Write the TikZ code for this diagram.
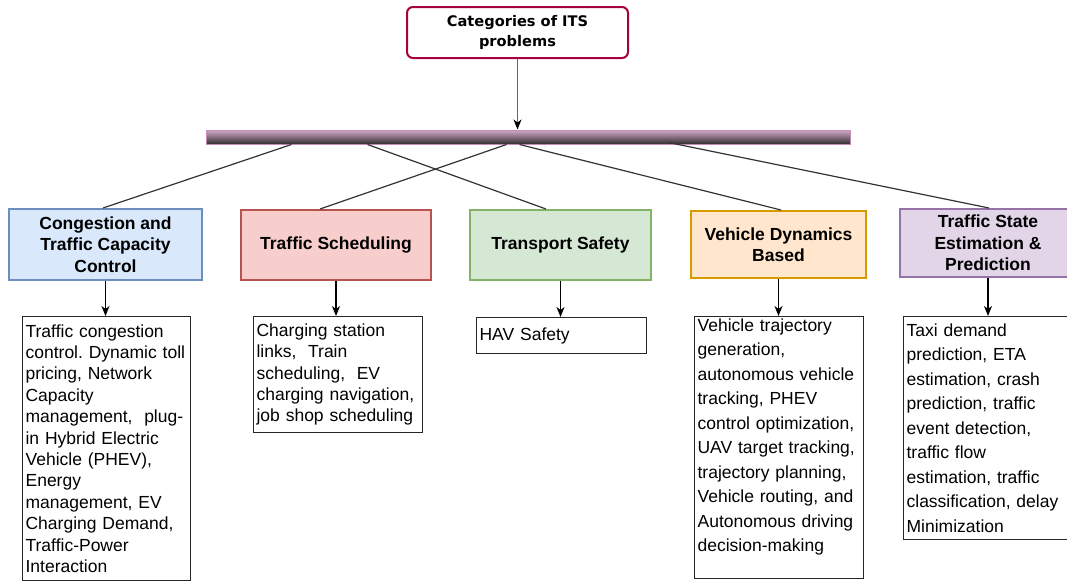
\documentclass[tikz,border=0pt]{standalone}
\usepackage{fontspec}
\setmainfont{Liberation Sans}
\newfontfamily\titlefont{DejaVu Sans}
\usetikzlibrary{arrows.meta}
\frenchspacing

\definecolor{topEdge}{HTML}{A50040}
\definecolor{blueFill}{HTML}{DAE8FC}\definecolor{blueEdge}{HTML}{6C8EBF}
\definecolor{redFill}{HTML}{F8CECC}\definecolor{redEdge}{HTML}{B85450}
\definecolor{greenFill}{HTML}{D5E8D4}\definecolor{greenEdge}{HTML}{82B366}
\definecolor{orangeFill}{HTML}{FFE6CC}\definecolor{orangeEdge}{HTML}{D79B00}
\definecolor{purpleFill}{HTML}{E1D5E7}\definecolor{purpleEdge}{HTML}{9673A6}
\definecolor{barTop}{RGB}{212,170,200}
\definecolor{barMid}{RGB}{130,118,128}
\definecolor{barBottom}{RGB}{50,46,50}
\definecolor{barEdge}{RGB}{196,140,180}
\definecolor{wire}{HTML}{333333}

\begin{document}
\begin{tikzpicture}[x=1pt,y=-1pt,
  topbox/.style={draw=topEdge, line width=2pt, rounded corners=6pt, fill=white,
    minimum width=221pt, minimum height=51pt, inner sep=0pt, align=center,
    font=\fontsize{14.6}{20}\selectfont\titlefont\bfseries},
  barbox/.style={draw=barEdge, line width=1pt, top color=barTop, middle color=barMid,
    bottom color=barBottom, minimum width=644pt, minimum height=14pt, inner sep=0pt},
  catbox/.style={line width=2pt, inner sep=0pt, align=center,
    font=\fontsize{17.5}{21.5}\selectfont\bfseries},
  detail/.style={draw=black!85, line width=1.2pt, anchor=north west, inner xsep=3pt,
    inner ysep=0pt, align=left},
  tight/.style={font=\fontsize{17.5}{21.4}\selectfont},
  loose/.style={font=\fontsize{17.5}{24.5}\selectfont},
  link/.style={draw=wire, line width=1.2pt},
  arr/.style={draw=black, line width=1.4pt, -{Stealth[length=10pt,width=8pt,inset=3pt,color=black]}},
]
\clip (0,0) rectangle (1067,581);
\useasboundingbox (0,0) rectangle (1067,581);

% root and distribution bar
\node[topbox] (top) at (517.5,32.5) {Categories of ITS\\problems};
\node[barbox] (bar) at (528,137) {};
\draw[arr, draw=black!60] (top.south) -- (top.south |- bar.north);

% categories
\node[catbox, draw=blueEdge, fill=blueFill, minimum width=193pt, minimum height=71pt]
  (cat1) at (105.5,244.5) {Congestion and\\Traffic Capacity\\Control};
\node[catbox, draw=redEdge, fill=redFill, minimum width=190pt, minimum height=70pt]
  (cat2) at (336,245) {Traffic Scheduling};
\node[catbox, draw=greenEdge, fill=greenFill, minimum width=181pt, minimum height=70pt]
  (cat3) at (560.5,245) {Transport Safety};
\node[catbox, draw=orangeEdge, fill=orangeFill, minimum width=175pt, minimum height=67pt]
  (cat4) at (778.5,244.5) {Vehicle Dynamics\\Based};
\node[catbox, draw=purpleEdge, fill=purpleFill, minimum width=176pt, minimum height=68pt]
  (cat5) at (988,243) {Traffic State\\Estimation \&\\Prediction};

% branch points on the bar
\coordinate (b1) at ([xshift=86pt]bar.south west);
\coordinate (b2) at ([xshift=162pt]bar.south west);
\coordinate (b3) at ([xshift=301pt]bar.south west);
\coordinate (b4) at ([xshift=314pt]bar.south west);
\coordinate (b5) at ([xshift=463pt,yshift=2pt]bar.south west);

\draw[link] (b1) -- ([xshift=-2.5pt]cat1.north);
\draw[link] (b2) -- ([xshift=-14.5pt]cat3.north);
\draw[link] (b3) -- ([xshift=-16pt]cat2.north);
\draw[link] (b4) -- ([xshift=2.5pt]cat4.north);
\draw[link] (b5) -- ([xshift=1pt]cat5.north);

% detail boxes
\node[detail, tight, minimum width=168pt, minimum height=264pt, text width=162pt]
  (d1) at (22,316) {Traffic congestion\\control. Dynamic toll\\pricing, Network\\Capacity\\management,\ \ plug-\\in Hybrid Electric\\Vehicle (PHEV),\\Energy\\management, EV\\Charging Demand,\\Traffic-Power\\Interaction};
\node[detail, tight, minimum width=169pt, minimum height=116pt, text width=163pt]
  (d2) at (253,316) {Charging station\\links,\ \ Train\\scheduling,\ \ EV\\charging navigation,\\job shop scheduling};
\node[detail, tight, minimum width=170pt, minimum height=36pt, text width=164pt]
  (d3) at (476,317) {HAV Safety};
\node[detail, loose, minimum width=169pt, minimum height=262pt, text width=163pt]
  (d4) at (694,316) {Vehicle trajectory\\generation,\\autonomous vehicle\\tracking, PHEV\\control optimization,\\UAV target tracking,\\trajectory planning,\\Vehicle routing, and\\Autonomous driving\\decision-making\\\mbox{}};
\node[detail, loose, minimum width=170pt, minimum height=223pt, text width=164pt]
  (d5) at (903,316) {Taxi demand\\prediction, ETA\\estimation, crash\\prediction, traffic\\event detection,\\traffic flow\\estimation, traffic\\classification, delay\\Minimization};

% category to detail arrows
\foreach \i in {1,...,5}
  \draw[arr] (cat\i.south) -- (cat\i.south |- d\i.north);
\end{tikzpicture}
\end{document}
